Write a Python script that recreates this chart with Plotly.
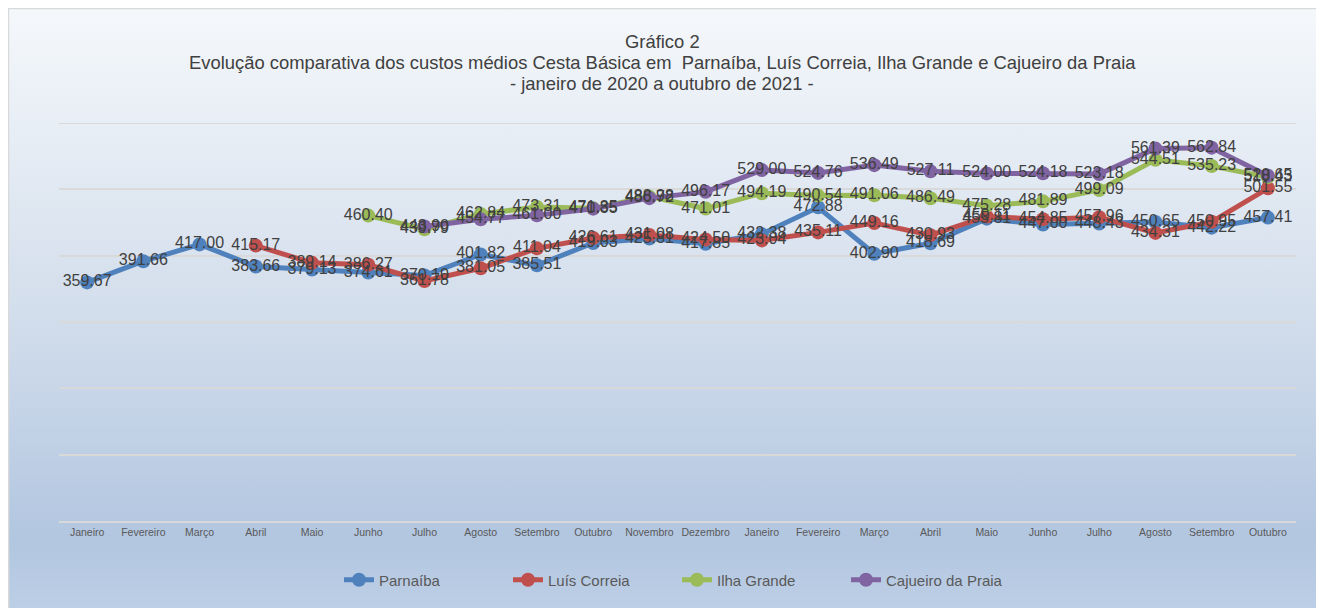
import base64
import plotly.graph_objects as go

months = ["Janeiro", "Fevereiro", "Março", "Abril", "Maio", "Junho", "Julho", "Agosto",
          "Setembro", "Outubro", "Novembro", "Dezembro", "Janeiro", "Fevereiro", "Março",
          "Abril", "Maio", "Junho", "Julho", "Agosto", "Setembro", "Outubro"]

parnaiba = [359.67, 391.66, 417.00, 383.66, 379.13, 374.61, 370.10, 401.82, 385.51, 419.03,
            425.81, 417.85, 432.38, 472.88, 402.90, 418.69, 455.81, 447.00, 448.43, 450.65,
            442.22, 457.41]
luis_correia = [None, None, None, 415.17, 389.14, 386.27, 361.78, 381.05, 411.04, 426.61,
                431.08, 424.50, 423.04, 435.11, 449.16, 430.93, 459.11, 454.85, 457.96, 434.31,
                450.95, 501.55]
ilha_grande = [None, None, None, None, None, 460.40, 439.79, 462.84, 473.31, 471.35,
               488.98, 471.01, 494.19, 490.54, 491.06, 486.49, 475.28, 481.89, 499.09, 544.51,
               535.23, 518.43]
cajueiro = [None, None, None, None, None, None, 443.90, 454.77, 461.00, 470.85,
            486.72, 496.17, 529.00, 524.76, 536.49, 527.11, 524.00, 524.18, 523.18, 561.39,
            562.84, 520.65]

series = [
    ("Parnaíba", parnaiba, "#4f81bd"),
    ("Luís Correia", luis_correia, "#c0504d"),
    ("Ilha Grande", ilha_grande, "#9bbb59"),
    ("Cajueiro da Praia", cajueiro, "#8064a2"),
]

title_lines = [
    "Gráfico 2",
    "Evolução comparativa dos custos médios Cesta Básica em  Parnaíba, Luís Correia, Ilha Grande e Cajueiro da Praia",
    "- janeiro de 2020 a outubro de 2021 -",
]

y_max = 600

x = list(range(len(months)))

FONT = "Liberation Sans, Arial, sans-serif"

fig = go.Figure()
for name, vals, color in series:
    fig.add_trace(go.Scatter(
        x=x, y=vals, name=name, mode="lines+markers",
        line=dict(color=color, width=5),
        marker=dict(color=color, size=14),
        connectgaps=False,
    ))
for name, vals, color in series:
    fig.add_trace(go.Scatter(
        x=x, y=vals, mode="text", showlegend=False, hoverinfo="skip",
        text=[None if v is None else f"{v:.2f}" for v in vals],
        textposition="middle center",
        textfont=dict(family=FONT, size=16, color="#404040"),
    ))

svg = ('<svg xmlns="http://www.w3.org/2000/svg" width="100" height="100" viewBox="0 0 100 100" '
       'preserveAspectRatio="none"><defs><linearGradient id="g" x1="0" y1="0" x2="0" y2="1">'
       '<stop offset="0" stop-color="#f5f8fb"/><stop offset="0.5" stop-color="#d3deec"/>'
       '<stop offset="0.88" stop-color="#b2c6e0"/><stop offset="1" stop-color="#bdcfe6"/>'
       '</linearGradient></defs><rect width="100" height="100" fill="url(#g)"/></svg>')
src = "data:image/svg+xml;base64," + base64.b64encode(svg.encode()).decode()

# page has an 8px body margin: figure coords = screen coords - 8
OFF = 8
FW, FH = 1324 - OFF, 608 - OFF
L, R, T, B = 59 - OFF, 1296 - OFF, 123 - OFF, 521 - OFF
W, H = R - L, B - T
def px2x(p): return (p - OFF - L) / W      # p in screen px
def px2y(p): return (B - (p - OFF)) / H

fig.add_layout_image(dict(
    source=src, xref="paper", yref="paper",
    x=px2x(8), y=px2y(8), sizex=px2x(1319) - px2x(8), sizey=px2y(8) - px2y(612),
    xanchor="left", yanchor="top", sizing="stretch", layer="below",
))
fig.add_shape(type="rect", xref="paper", yref="paper",
              x0=px2x(8.5), x1=px2x(1319), y0=px2y(620), y1=px2y(8.5),
              line=dict(color="#d9d9d9", width=1.5), layer="below")
# top gridline at the range edge
fig.add_shape(type="line", xref="paper", yref="y", x0=0, x1=1, y0=y_max, y1=y_max,
              line=dict(color="#d9d9d9", width=2), layer="below")

for txt, ypx in zip(title_lines, [41, 62, 84]):
    fig.add_annotation(text=txt, xref="paper", yref="paper", x=px2x(662), y=px2y(ypx),
                       xanchor="center", yanchor="middle", showarrow=False,
                       font=dict(family=FONT, size=18.4, color="#404040"))

fig.update_layout(
    width=FW, height=FH,
    margin=dict(l=L, r=FW - R, t=T, b=FH - B),
    paper_bgcolor="white", plot_bgcolor="rgba(0,0,0,0)",
    xaxis=dict(
        range=[-0.5, len(months) - 0.5], tickmode="array", tickvals=x, ticktext=months,
        showgrid=False, zeroline=False, showline=True, linecolor="#d9d9d9", linewidth=2,
        ticks="", tickfont=dict(family=FONT, size=10.5, color="#595959"),
    ),
    yaxis=dict(
        range=[0, y_max], dtick=100, showticklabels=False, showgrid=True,
        gridcolor="#d9d9d9", gridwidth=2, zeroline=False, ticks="",
    ),
    legend=dict(
        orientation="h", x=px2x(677), xanchor="center", y=px2y(580), yanchor="middle",
        font=dict(family=FONT, size=15, color="#595959"),
        bgcolor="rgba(0,0,0,0)", entrywidth=124, entrywidthmode="pixels",
    ),
    showlegend=True,
)

fig.write_html("out.html")
